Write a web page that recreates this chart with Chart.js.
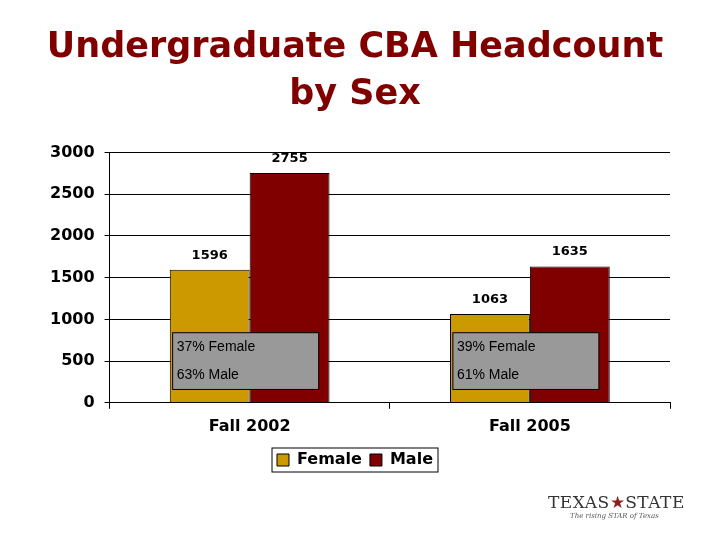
<!DOCTYPE html>
<html lang="en">
<head>
  <meta charset="UTF-8" />
  <title>Undergraduate CBA Headcount by Sex</title>
  <script src="https://cdn.jsdelivr.net/npm/chart.js"></script>
  <style>
    html, body { margin: 0; padding: 0; background: #fff; }
    #wrap { position: relative; width: 720px; height: 540px; }
    #logo { position: absolute; left: 548px; top: 492px; font-family: 'DejaVu Serif', serif; color: #333; }
    #logo .big { font-size: 17px; letter-spacing: 0.5px; }
    #logo .small { font-size: 7px; font-style: italic; margin-left: 22px; color: #555; }
  </style>
</head>
<body>
  <div id="wrap">
    <canvas id="c" width="720" height="540"></canvas>
    <div id="logo"><div class="big">TEXAS<span style="color:#8a1f1f">&#9733;</span>STATE</div><div class="small">The rising STAR of Texas</div></div>
  </div>
  <script>
    const categories = ['Fall 2002', 'Fall 2005'];
    const female = [1596, 1063];
    const male = [2755, 1635];
    const boxLines = [['37% Female', '63% Male'], ['39% Female', '61% Male']];

    const boxes = {
      id: 'boxes',
      afterDatasetsDraw(chart) {
        const ctx = chart.ctx, x = chart.scales.x, y = chart.scales.y;
        categories.forEach((c, i) => {
          const cx = x.getPixelForValue(i);
          const top = y.getPixelForValue(840), bot = y.getPixelForValue(160);
          ctx.save();
          ctx.fillStyle = '#999999';
          ctx.strokeStyle = '#000';
          ctx.lineWidth = 1;
          ctx.fillRect(cx - 77, top, 146, bot - top);
          ctx.strokeRect(cx - 77, top, 146, bot - top);
          ctx.fillStyle = '#000';
          ctx.font = '14px "Liberation Sans", Arial, sans-serif';
          ctx.textBaseline = 'middle';
          ctx.fillText(boxLines[i][0], cx - 73, top + 14);
          ctx.fillText(boxLines[i][1], cx - 73, top + 42);
          ctx.font = 'bold 13px "DejaVu Sans", Verdana, sans-serif';
          ctx.textAlign = 'center';
          ctx.textBaseline = 'bottom';
          chart.data.datasets.forEach((ds, d) => {
            const bar = chart.getDatasetMeta(d).data[i];
            ctx.fillText(ds.data[i], bar.x, bar.y - 8);
          });
          ctx.restore();
        });
      },
      afterDraw(chart) {
        const l = chart.legend, ctx = chart.ctx;
        const hb = l.legendHitBoxes;
        if (!hb.length) return;
        const x0 = hb[0].left - 5, x1 = hb[hb.length - 1].left + hb[hb.length - 1].width + 5;
        ctx.save();
        ctx.strokeStyle = '#000';
        ctx.lineWidth = 1;
        ctx.strokeRect(x0, hb[0].top - 4, x1 - x0, hb[0].height + 8);
        ctx.restore();
      }
    };

    new Chart(document.getElementById('c'), {
      type: 'bar',
      data: {
        labels: categories,
        datasets: [
          { label: 'Female', data: female, backgroundColor: '#CC9900', borderColor: '#000', borderWidth: 1 },
          { label: 'Male', data: male, backgroundColor: '#800000', borderColor: '#000', borderWidth: 1 }
        ]
      },
      options: {
        responsive: false,
        animation: false,
        layout: { padding: { left: 40, right: 50, top: 2, bottom: 62 } },
        datasets: { bar: { categoryPercentage: 0.57, barPercentage: 1 } },
        plugins: {
          title: {
            display: true,
            text: ['Undergraduate CBA Headcount', 'by Sex'],
            color: '#800000',
            font: { family: '"DejaVu Sans", Verdana, sans-serif', size: 35, weight: 'bold', lineHeight: 1.35 },
            padding: { top: 22, bottom: 34 }
          },
          legend: {
            position: 'bottom',
            labels: {
              color: '#000', boxWidth: 12, boxHeight: 12, padding: 8,
              font: { family: '"DejaVu Sans", Verdana, sans-serif', size: 16, weight: 'bold' }
            }
          },
          tooltip: { enabled: false }
        },
        scales: {
          x: {
            grid: { display: true, drawOnChartArea: false, color: '#000', tickLength: 6 },
            border: { color: '#000' },
            ticks: { color: '#000', padding: 8, font: { family: '"DejaVu Sans", Verdana, sans-serif', size: 16, weight: 'bold' } }
          },
          y: {
            min: 0, max: 3000,
            ticks: { stepSize: 500, color: '#000', padding: 10, callback: v => String(v), font: { family: '"DejaVu Sans", Verdana, sans-serif', size: 16, weight: 'bold' } },
            grid: { color: '#000', tickLength: 5 },
            border: { color: '#000' }
          }
        }
      },
      plugins: [boxes]
    });
  </script>
</body>
</html>
